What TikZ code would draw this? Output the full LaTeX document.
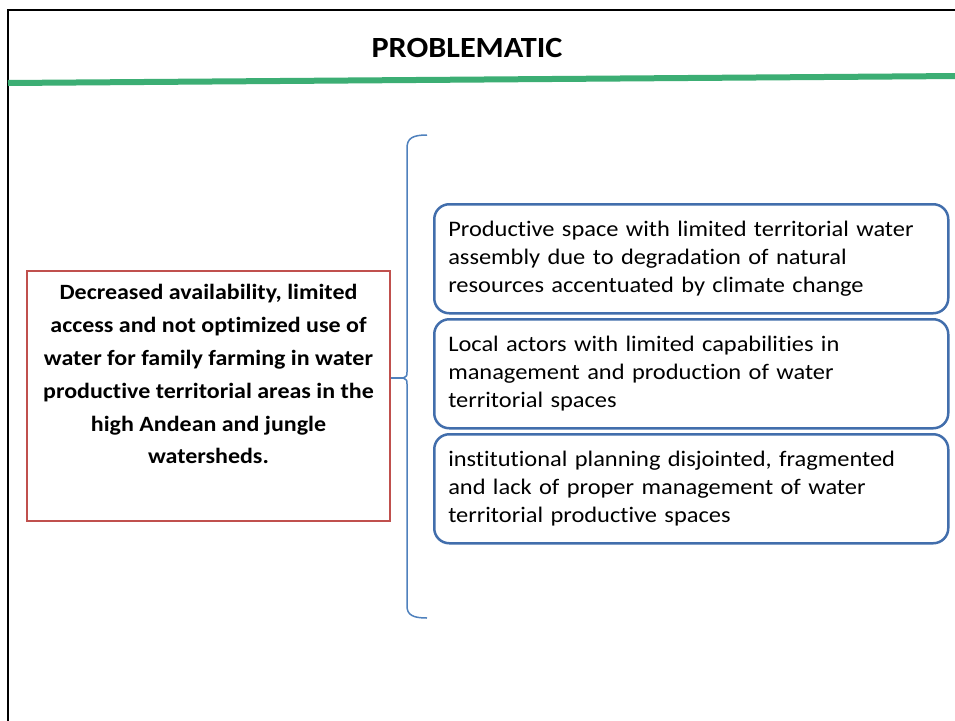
\documentclass[tikz,border=0pt]{standalone}
\usepackage{fontspec}
\setmainfont[FakeStretch=1.1, Ligatures=NoCommon]{Carlito}
\definecolor{framegreen}{RGB}{60,174,116}
\definecolor{probred}{RGB}{192,80,77}
\definecolor{boxblue}{RGB}{66,110,172}
\definecolor{braceblue}{RGB}{79,129,189}
\tikzset{
  causebox/.style={draw=boxblue, line width=2.5pt, rounded corners=15pt,
    minimum width=514pt, minimum height=109pt, text width=486pt,
    align=left, inner sep=0pt, font=\fontsize{22.2}{28}\selectfont, anchor=north west},
  probbox/.style={draw=probred, line width=2pt, minimum width=363pt, minimum height=250pt,
    anchor=north west, inner sep=0pt},
  probtext/.style={font=\bfseries\fontsize{21.8}{32.8}\selectfont, align=center, anchor=north},
  bracestyle/.style={draw=braceblue, line width=1.5pt}
}
\begin{document}
\begin{tikzpicture}[x=1pt,y=-1pt]
\useasboundingbox (0,0) rectangle (955,720);
\clip (0,0) rectangle (955,720);
\fill[white] (0,0) rectangle (955,720);
% frame
\draw[line width=2.5pt] (8,760) -- (8,10) -- (990,10);
% green rule
\draw[framegreen, line width=6pt] (8,83) -- (960,76);
% title
\node[font=\bfseries\fontsize{29.3}{32}\selectfont] (title) at (467,48) {PROBLEMATIC};
% problem box
\node[probbox] (prob) at (26,270) {};
\node[probtext] (probtxt) at ([yshift=-11pt]prob.north) {Decreased availability, limited\\access and not optimized use of\\water for family farming in water\\productive territorial areas in the\\high Andean and jungle\\watersheds.};
% cause boxes
\node[causebox] (c1) at (433,203) {Productive space with limited territorial water\\assembly due to degradation of natural\\resources accentuated by climate change};
\node[causebox] (c2) at (433,318) {Local actors with limited capabilities in\\management and production of water\\territorial spaces};
\node[causebox] (c3) at (433,433) {institutional planning disjointed, fragmented\\and lack of proper management of water\\territorial productive spaces};
% brace
\coordinate (tip) at (403,378);
\coordinate (btop) at (427,135);
\coordinate (bbot) at (427,618);
\draw[bracestyle] (btop) .. controls (413,135) and (407,138) .. (407,148) -- (407,372)
  .. controls (407,376) .. (tip) .. controls (407,380) .. (407,384) -- (407,606)
  .. controls (407,615) and (413,618) .. (bbot);
\draw[bracestyle] (tip -| prob.east) -- (tip);
\end{tikzpicture}
\end{document}
